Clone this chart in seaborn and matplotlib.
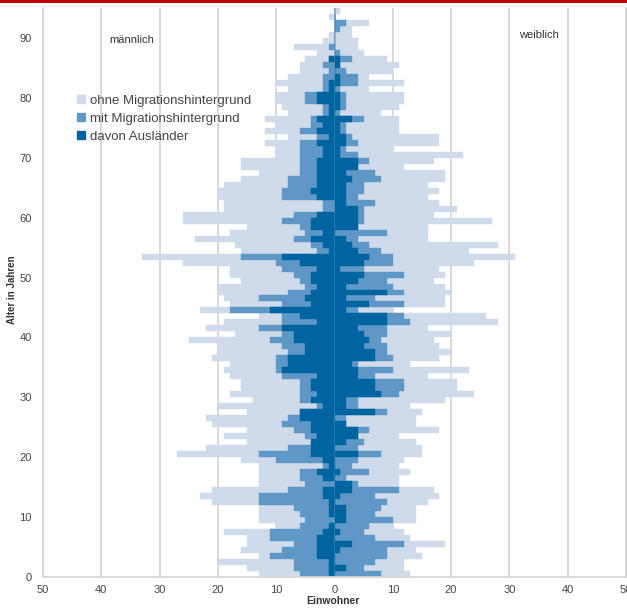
import numpy as np
import pandas as pd
import seaborn as sns
import matplotlib
matplotlib.use('Agg')
import matplotlib.pyplot as plt
from matplotlib.lines import Line2D
from matplotlib.ticker import FuncFormatter, MultipleLocator

# Alter 0..94, Einwohner je Altersjahr (gesamt, mit Migrationshintergrund, davon Ausländer)
alter = list(range(95))

m_gesamt = [13, 15, 20, 13, 16, 15, 15, 19, 10, 13, 13, 13, 21, 23, 21, 13, 13, 13, 13, 16,
            27, 22, 15, 19, 15, 21, 22, 15, 20, 14, 18, 16, 16, 18, 19, 18, 21, 20, 20, 25,
            17, 22, 19, 13, 23, 18, 19, 20, 20, 16, 18, 18, 26, 33, 16, 17, 24, 18, 15, 26,
            26, 19, 19, 20, 20, 19, 16, 13, 16, 16, 10, 10, 12, 8, 12, 10, 12, 8, 9, 10,
            10, 8, 10, 8, 6, 6, 5, 3, 7, 2, 1, 0, 0, 1, 0]
m_mig = [6, 7, 7, 11, 9, 7, 11, 11, 6, 5, 6, 7, 13, 13, 8, 5, 6, 6, 2, 10,
         13, 8, 4, 5, 7, 9, 8, 6, 3, 6, 6, 6, 6, 9, 10, 10, 10, 8, 9, 11,
         9, 13, 9, 9, 18, 9, 13, 8, 5, 6, 7, 9, 10, 16, 3, 4, 7, 5, 6, 9,
         7, 2, 2, 9, 9, 8, 8, 6, 6, 6, 6, 6, 6, 3, 6, 4, 4, 2, 2, 5,
         5, 2, 2, 2, 1, 2, 1, 0, 1, 0, 0, 0, 0, 0, 0]
m_ausl = [1, 1, 1, 3, 3, 3, 3, 2, 1, 0, 1, 1, 1, 2, 2, 0, 2, 3, 1, 2,
          4, 4, 4, 3, 4, 4, 6, 6, 2, 4, 3, 4, 4, 3, 9, 8, 8, 5, 5, 7,
          7, 9, 3, 6, 11, 4, 5, 4, 3, 4, 4, 3, 6, 9, 1, 2, 4, 2, 4, 4,
          3, 0, 0, 3, 4, 3, 3, 3, 3, 3, 2, 2, 3, 1, 3, 2, 3, 1, 1, 3,
          3, 1, 1, 0, 0, 0, 1, 0, 0, 0, 0, 0, 0, 0, 0]

w_gesamt = [13, 12, 12, 15, 14, 19, 13, 12, 10, 14, 14, 14, 16, 18, 17, 11, 11, 13, 11, 12,
            15, 15, 14, 11, 18, 14, 14, 15, 13, 19, 24, 21, 21, 16, 23, 13, 18, 20, 18, 17,
            20, 16, 28, 26, 10, 19, 19, 20, 19, 17, 19, 18, 24, 31, 23, 28, 16, 16, 16, 27,
            17, 21, 18, 16, 18, 16, 19, 19, 12, 17, 22, 10, 18, 18, 11, 11, 11, 8, 11, 12,
            12, 6, 12, 6, 10, 11, 9, 5, 4, 4, 3, 3, 6, 0, 1]
w_mig = [8, 5, 7, 9, 9, 12, 7, 5, 6, 10, 7, 8, 9, 7, 11, 4, 2, 6, 3, 4,
         8, 4, 5, 4, 6, 2, 2, 9, 4, 4, 11, 12, 12, 7, 10, 4, 10, 9, 9, 8,
         9, 9, 13, 12, 4, 12, 7, 12, 10, 9, 12, 5, 10, 10, 8, 6, 4, 9, 4, 5,
         5, 5, 7, 4, 5, 5, 8, 7, 4, 6, 4, 2, 4, 3, 2, 2, 5, 1, 2, 2,
         2, 1, 4, 4, 2, 1, 3, 1, 0, 0, 0, 1, 2, 0, 0]
w_ausl = [0, 2, 0, 0, 1, 3, 0, 1, 0, 2, 2, 2, 0, 1, 3, 3, 0, 1, 0, 0,
          4, 0, 2, 4, 4, 2, 0, 7, 2, 2, 8, 7, 7, 4, 4, 3, 7, 7, 5, 6,
          5, 4, 9, 9, 2, 6, 2, 9, 2, 4, 5, 1, 5, 6, 4, 3, 2, 0, 4, 4,
          4, 4, 2, 2, 2, 2, 3, 2, 4, 4, 1, 1, 2, 2, 1, 1, 3, 0, 1, 1,
          1, 0, 1, 1, 0, 1, 1, 0, 0, 0, 0, 0, 0, 0, 0]

hell = '#cfdbea'
mittel = '#5f98c7'
dunkel = '#0064a0'
grau = '#d6d6d6'

sns.set_style('white')
plt.rcParams['font.family'] = ['Liberation Sans', 'DejaVu Sans']

fig = plt.figure(figsize=(6.27, 6.08), dpi=100)
ax = fig.add_axes([43 / 627, 31 / 608, 583 / 627, 569 / 608])

maenner = pd.DataFrame({'y': np.array(alter) + 0.5, 'gesamt': -np.array(m_gesamt),
                        'mig': -np.array(m_mig), 'ausl': -np.array(m_ausl)})
frauen = pd.DataFrame({'y': np.array(alter) + 0.5, 'gesamt': w_gesamt,
                       'mig': w_mig, 'ausl': w_ausl})

for df in [maenner, frauen]:
    for spalte, farbe in [('gesamt', hell), ('mig', mittel), ('ausl', dunkel)]:
        sns.barplot(data=df, x=spalte, y='y', orient='y', native_scale=True, width=1,
                    color=farbe, saturation=1, errorbar=None, edgecolor=farbe,
                    linewidth=0.3, ax=ax)

ax.set_xlim(-50, 50)
ax.set_ylim(0, 95)
ax.xaxis.set_major_locator(MultipleLocator(10))
ax.xaxis.set_major_formatter(FuncFormatter(lambda v, p: f'{abs(int(round(v)))}'))
ax.yaxis.set_major_locator(MultipleLocator(10))
ax.yaxis.set_minor_locator(MultipleLocator(5))
ax.xaxis.grid(True, color=grau, lw=1.3)
ax.set_axisbelow(True)
ax.tick_params(axis='y', which='major', length=5, color='#bbbbbb', labelsize=8,
               labelcolor='#444444', pad=3)
ax.tick_params(axis='y', which='minor', length=3, color='#bbbbbb')
ax.tick_params(axis='x', length=0, labelsize=8, labelcolor='#444444', pad=6)
for s in ['left', 'bottom', 'right']:
    ax.spines[s].set_color(grau)
    ax.spines[s].set_linewidth(1.3)
ax.spines['top'].set_visible(False)
ax.set_xlabel('')
ax.set_ylabel('')

fig.text(12 / 627, 1 - 290 / 608, 'Alter in Jahren', rotation=90, fontsize=7,
         fontweight='bold', color='#333333', ha='center', va='center')
fig.text(333 / 627, 1 - 601 / 608, 'Einwohner', fontsize=7.5, fontweight='bold',
         color='#333333', ha='center', va='center')
fig.text(132 / 627, 1 - 40 / 608, 'männlich', fontsize=8, color='#333333',
         ha='center', va='center')
fig.text(539 / 627, 1 - 35 / 608, 'weiblich', fontsize=8, color='#333333',
         ha='center', va='center')

griffe = [Line2D([], [], marker='s', ls='', color=c, markersize=6) for c in [hell, mittel, dunkel]]
fig.legend(griffe, ['ohne Migrationshintergrund', 'mit Migrationshintergrund', 'davon Ausländer'],
           loc='upper left', bbox_to_anchor=(68 / 627, 1 - 89 / 608), frameon=False,
           fontsize=9.5, handletextpad=0.1, labelspacing=0.45, borderaxespad=0,
           labelcolor='#444444', handlelength=1.2)

fig.add_artist(plt.Rectangle((0, 1 - 3 / 608), 1, 3 / 608, transform=fig.transFigure,
                             color='#c00000', lw=0))

fig.savefig('out.png', dpi=100)
